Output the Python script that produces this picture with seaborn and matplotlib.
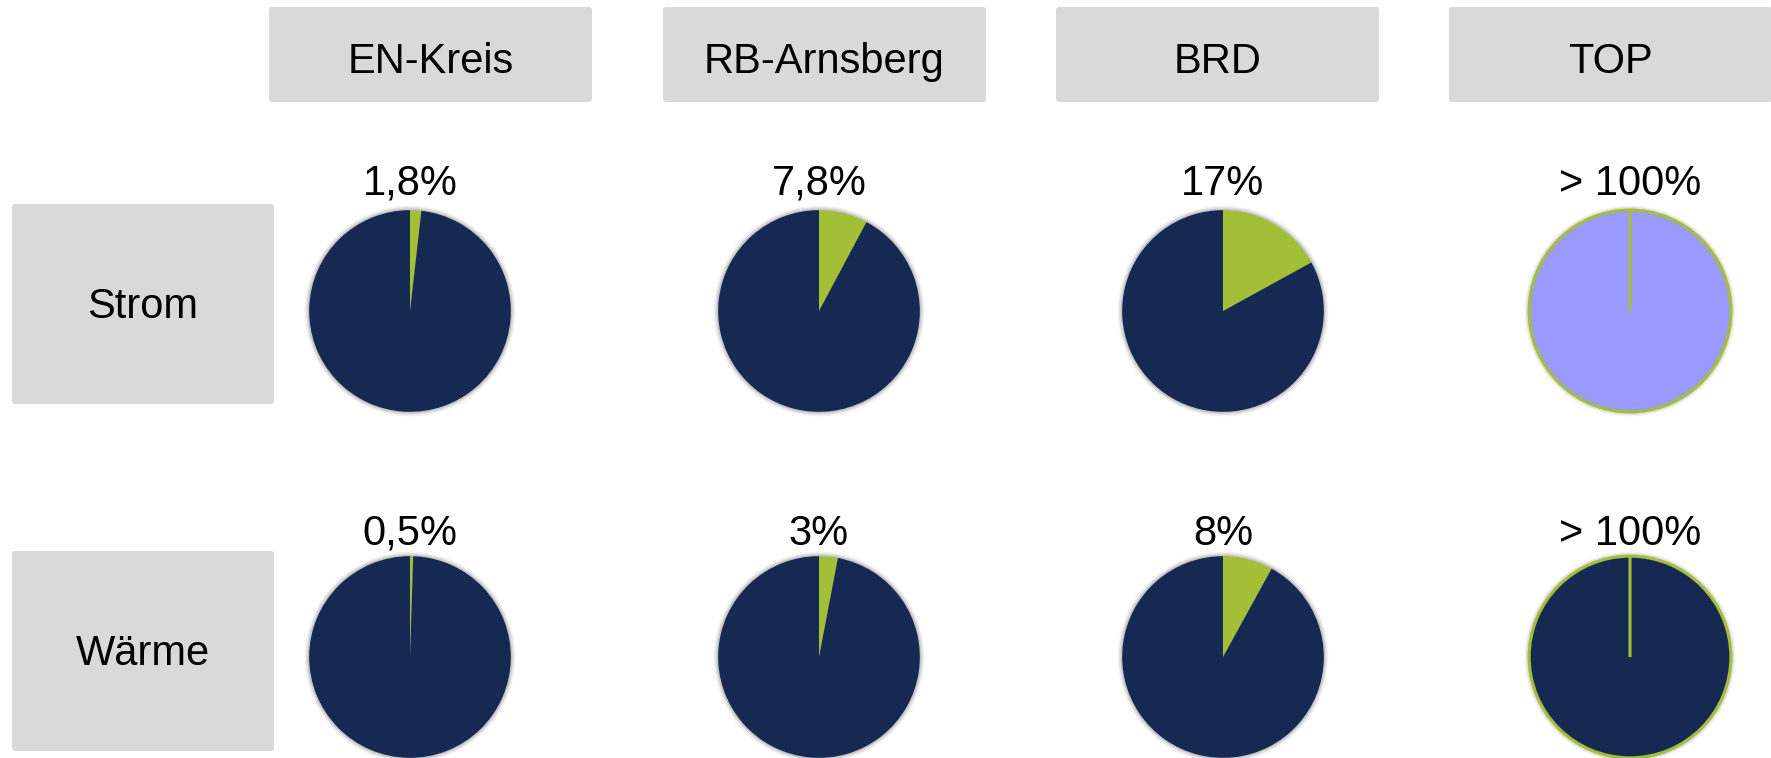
import matplotlib
matplotlib.use("Agg")
import matplotlib.pyplot as plt
from matplotlib.patches import FancyBboxPatch, Circle
import seaborn as sns

# Share of renewable energy per region
columns = ["EN-Kreis", "RB-Arnsberg", "BRD", "TOP"]
rows = ["Strom", "Wärme"]
strom_share = [1.8, 7.8, 17.0, 100.0]
waerme_share = [0.5, 3.0, 8.0, 100.0]
strom_labels = ["1,8%", "7,8%", "17%", "> 100%"]
waerme_labels = ["0,5%", "3%", "8%", "> 100%"]

sns.set_theme(style="white")
plt.rcParams["font.family"] = ["Liberation Sans", "DejaVu Sans"]

W, H = 1771, 758
fig = plt.figure(figsize=(W / 100, H / 100), dpi=100)
fig.patch.set_facecolor("white")

NAVY = "#162952"
GREEN = "#A2BF36"
LILAC = "#9999FF"
BOX = "#D9D9D9"
FS = 30

# layout in pixel units (origin top-left)
header_left = [269, 663, 1056, 1449]
header_top, header_w, header_h = 7, 323, 95
header_base = 73
row_box_left, row_box_w, row_box_h = 12, 262, 200
row_box_top = [204, 551]
row_text_base = [318, 665]
pie_cx = [410, 819, 1223, 1630]
pie_cy = [311, 657]
label_base = [195, 545]
top_fill = [LILAC, NAVY]

overlay = fig.add_axes([0, 0, 1, 1])
overlay.set_xlim(0, W)
overlay.set_ylim(H, 0)
overlay.axis("off")


def label_box(x, y, w, h, text, base):
    overlay.add_patch(FancyBboxPatch((x, y), w, h,
                                     boxstyle="round,pad=0,rounding_size=3",
                                     fc=BOX, ec="none"))
    overlay.text(x + w / 2, base, text, ha="center", va="baseline",
                 fontsize=FS, color="black")


for x, name in zip(header_left, columns):
    label_box(x, header_top, header_w, header_h, name, header_base)
for y, base, name in zip(row_box_top, row_text_base, rows):
    label_box(row_box_left, y, row_box_w, row_box_h, name, base)

shares = [strom_share, waerme_share]
labels = [strom_labels, waerme_labels]
half = 120
lim = 1.19

for r in range(len(rows)):
    for c in range(len(columns)):
        cx, cy = pie_cx[c], pie_cy[r]
        ax = fig.add_axes([(cx - half) / W, 1 - (cy + half) / H,
                           2 * half / W, 2 * half / H])
        ax.set_facecolor("none")
        # soft halo behind the pie
        for k, a in [(0.045, 0.05), (0.03, 0.08), (0.015, 0.12)]:
            ax.add_patch(Circle((0, 0), 1 + k, fc="black", ec="none",
                                alpha=a, zorder=0))
        share = shares[r][c]
        rest = max(100.0 - share, 0.0)
        if share >= 100:
            cols = [top_fill[r], top_fill[r]]
            wp = dict(edgecolor=GREEN, linewidth=2.2)
        else:
            cols = [GREEN, NAVY]
            wp = dict(linewidth=0)
        ax.pie([share, rest], colors=cols, startangle=90, counterclock=False,
               radius=1, wedgeprops=wp)
        ax.set_xlim(-lim, lim)
        ax.set_ylim(-lim, lim)
        ax.set_aspect("equal")
        ax.axis("off")
        overlay.text(cx, label_base[r], labels[r][c], ha="center",
                     va="baseline", fontsize=FS, color="black")

fig.savefig("out.png", dpi=100, facecolor="white")
